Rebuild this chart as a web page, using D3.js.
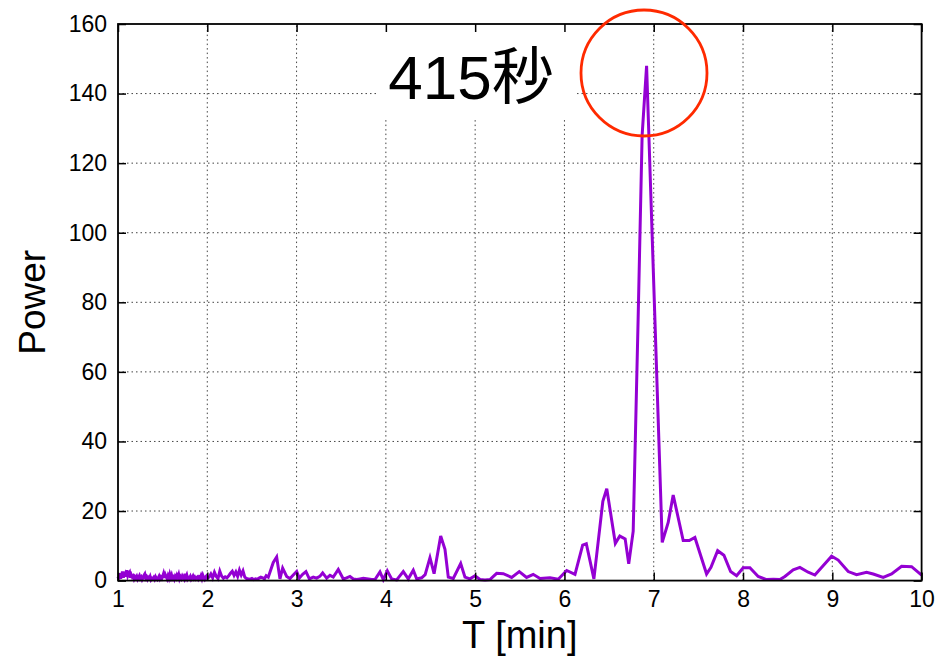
<!DOCTYPE html>
<html lang="ja">
<head>
<meta charset="UTF-8">
<title>Power spectrum</title>
<script src="https://d3js.org/d3.v7.min.js"></script>
<style>
  body { margin: 0; background: #fff; }
  svg { display: block; font-family: "Liberation Sans", Arial, sans-serif; }
</style>
</head>
<body>
<svg id="chart" width="941" height="658"></svg>
<script>
// dense low-period band, T = 1.00 .. 2.66 min
const periodDense = [
  1.00, 1.01, 1.02, 1.03, 1.04, 1.05, 1.06, 1.07, 1.08, 1.09,
  1.10, 1.11, 1.12, 1.13, 1.14, 1.15, 1.16, 1.17, 1.18, 1.19,
  1.20, 1.21, 1.22, 1.23, 1.24, 1.25, 1.26, 1.27, 1.28, 1.29,
  1.30, 1.31, 1.32, 1.33, 1.34, 1.35, 1.36, 1.37, 1.38, 1.39,
  1.40, 1.41, 1.42, 1.43, 1.44, 1.45, 1.46, 1.47, 1.48, 1.49,
  1.50, 1.51, 1.52, 1.53, 1.54, 1.55, 1.56, 1.57, 1.58, 1.59,
  1.60, 1.61, 1.62, 1.63, 1.64, 1.65, 1.66, 1.67, 1.68, 1.69,
  1.70, 1.71, 1.72, 1.73, 1.74, 1.75, 1.76, 1.77, 1.78, 1.79,
  1.80, 1.81, 1.82, 1.83, 1.84, 1.85, 1.86, 1.87, 1.88, 1.89,
  1.90, 1.91, 1.92, 1.93, 1.94, 1.95, 1.96, 1.97, 1.98, 1.99,
  2.00, 2.02, 2.04, 2.06, 2.08, 2.10, 2.12, 2.14, 2.16, 2.18,
  2.20, 2.22, 2.24, 2.26, 2.28, 2.30, 2.32, 2.34, 2.36, 2.38,
  2.40, 2.42, 2.44, 2.46, 2.48, 2.50, 2.52, 2.54, 2.56, 2.58,
  2.60, 2.62, 2.64, 2.66
];
const powerDense = [
  1.2, 0.4, 2.1, 0.6, 1.5, 2.6, 0.9, 1.8, 2.2, 1.1,
  3.0, 1.4, 2.0, 2.4, 0.8, 1.6, 1.0, 1.3, 0.5, 1.1,
  0.7, 1.2, 0.4, 0.9, 1.4, 0.6, 1.0, 0.3, 0.8, 1.5,
  1.9, 0.7, 1.1, 0.4, 0.9, 0.6, 1.2, 0.3, 0.7, 0.5,
  0.9, 0.4, 1.1, 0.6, 0.3, 0.8, 1.3, 0.5, 1.0, 0.6,
  1.2, 2.0, 0.8, 1.7, 1.1, 0.5, 1.4, 0.7, 1.8, 0.9,
  1.6, 0.6, 1.0, 0.4, 1.2, 0.7, 1.5, 0.9, 1.7, 0.5,
  1.1, 0.6, 1.3, 0.8, 0.4, 2.0, 1.0, 1.6, 0.5, 0.9,
  0.7, 1.2, 0.4, 0.8, 1.3, 0.6, 1.0, 0.5, 0.9, 1.1,
  0.5, 1.0, 0.7, 1.4, 0.6, 1.5, 0.8, 0.4, 1.0, 1.3,
  0.7, 1.0, 1.9, 0.8, 2.4, 1.2, 0.6, 2.7, 1.3, 0.7,
  1.1, 0.8, 1.4, 2.1, 2.7, 1.5, 2.5, 1.2, 3.0, 1.6,
  2.8, 1.0, 0.6, 0.5, 0.4, 0.6, 0.3, 0.5, 0.4, 0.7,
  1.0, 0.8, 0.5, 1.4
];
// sparser part, T = 2.68 .. 10 min
const periodSparse = [
  2.683, 2.739, 2.777, 2.814, 2.844, 2.889, 2.926, 2.963, 3.001, 3.030,
  3.068, 3.105, 3.143, 3.187, 3.225, 3.260, 3.292, 3.337, 3.374, 3.411,
  3.467, 3.523, 3.560, 3.598, 3.635, 3.673, 3.710, 3.747, 3.803, 3.840,
  3.878, 3.934, 3.971, 4.016, 4.065, 4.121, 4.195, 4.251, 4.307, 4.345,
  4.401, 4.440, 4.494, 4.540, 4.614, 4.662, 4.699, 4.755, 4.838, 4.886,
  4.942, 4.998, 5.054, 5.110, 5.166, 5.241, 5.315, 5.409, 5.494, 5.576,
  5.650, 5.726, 5.838, 5.931, 6.025, 6.118, 6.204, 6.245, 6.330, 6.430,
  6.474, 6.570, 6.620, 6.680, 6.720, 6.770, 6.825, 6.870, 6.920, 7.095,
  7.162, 7.218, 7.330, 7.398, 7.461, 7.592, 7.641, 7.716, 7.786, 7.861,
  7.928, 8.002, 8.077, 8.170, 8.264, 8.340, 8.413, 8.469, 8.562, 8.637,
  8.730, 8.805, 8.992, 9.066, 9.178, 9.272, 9.384, 9.458, 9.570, 9.664,
  9.776, 9.888, 10.0
];
const powerSparse = [
  1.0, 5.2, 6.8, 0.5, 3.6, 1.2, 0.6, 1.6, 2.6, 0.7,
  1.8, 2.6, 0.5, 1.0, 0.7, 1.2, 2.2, 0.7, 1.5, 1.0,
  3.2, 0.5, 0.8, 1.2, 0.5, 0.3, 0.5, 0.7, 0.5, 0.3,
  0.3, 2.5, 0.3, 2.8, 0.5, 0.2, 2.6, 0.5, 3.0, 0.5,
  0.8, 1.7, 6.6, 2.0, 12.8, 9.0, 1.0, 0.6, 4.9, 1.0,
  0.5, 1.4, 0.3, 0.2, 0.3, 2.1, 2.0, 0.9, 2.6, 0.9,
  1.8, 0.6, 0.8, 0.4, 2.9, 1.8, 10.2, 10.6, 0.5, 22.8,
  26.4, 10.7, 12.8, 12.0, 4.8, 14.2, 75, 128, 148, 11.0,
  16.7, 24.6, 11.5, 11.5, 12.4, 1.9, 3.8, 8.6, 7.3, 2.6,
  1.4, 3.7, 3.7, 1.2, 0.3, 0.4, 0.3, 1.2, 3.1, 3.8,
  2.4, 1.6, 7.0, 5.9, 2.6, 1.7, 2.4, 1.9, 0.9, 1.9,
  4.1, 4.0, 1.6
];
const xTicks = [1, 2, 3, 4, 5, 6, 7, 8, 9, 10];
const yTicks = [0, 20, 40, 60, 80, 100, 120, 140, 160];
const note = "415秒";

const width = 941, height = 658;
const margin = {top: 24, right: 19.4, bottom: 77.4, left: 118};

const svg = d3.select("#chart");

const x = d3.scaleLinear().domain([1, 10]).range([margin.left, width - margin.right]);
const y = d3.scaleLinear().domain([0, 160]).range([height - margin.bottom, margin.top]);

const data = periodDense.map((t, i) => ({t: t, p: powerDense[i]}))
  .concat(periodSparse.map((t, i) => ({t: t, p: powerSparse[i]})));

// dotted grid
const grid = svg.append("g").attr("stroke", "#444").attr("stroke-width", 1)
  .attr("stroke-dasharray", "1.5,3");
grid.selectAll(".gx").data(xTicks.slice(1, -1)).join("line")
  .attr("x1", d => x(d)).attr("x2", d => x(d))
  .attr("y1", y(0)).attr("y2", y(160));
grid.selectAll(".gy").data(yTicks.slice(1, -1)).join("line")
  .attr("x1", x(1)).attr("x2", x(10))
  .attr("y1", d => y(d)).attr("y2", d => y(d));

// white box behind the annotation
svg.append("rect")
  .attr("x", 378).attr("y", margin.top)
  .attr("width", 196).attr("height", 96)
  .attr("fill", "#fff");

svg.append("path")
  .datum(data)
  .attr("fill", "none")
  .attr("stroke", "#9400d3")
  .attr("stroke-width", 3)
  .attr("stroke-linejoin", "miter")
  .attr("d", d3.line().x(d => x(d.t)).y(d => y(d.p)));

svg.append("text")
  .attr("x", 471).attr("y", 99)
  .attr("text-anchor", "middle")
  .attr("font-size", 62)
  .style("font-family", '"Liberation Sans", "Noto Sans CJK JP", sans-serif')
  .text(note);

// axes, ticks pointing inward, mirrored on top and right
function styleAxis(g) {
  g.select(".domain").remove();
  g.selectAll(".tick line").attr("stroke", "#000").attr("stroke-width", 1.5);
  g.selectAll(".tick text").attr("fill", "#000").attr("font-size", 23)
    .style("font-family", '"Liberation Sans", Arial, sans-serif');
}

svg.append("g")
  .attr("transform", `translate(0,${y(0)})`)
  .call(d3.axisBottom(x).tickValues(xTicks).tickSize(-8).tickPadding(10).tickFormat(d3.format("d")))
  .call(styleAxis);
svg.append("g")
  .attr("transform", `translate(0,${y(160)})`)
  .call(d3.axisTop(x).tickValues(xTicks).tickSize(-8).tickFormat(""))
  .call(styleAxis);
svg.append("g")
  .attr("transform", `translate(${x(1)},0)`)
  .call(d3.axisLeft(y).tickValues(yTicks).tickSize(-8).tickPadding(11).tickFormat(d3.format("d")))
  .call(styleAxis);
svg.append("g")
  .attr("transform", `translate(${x(10)},0)`)
  .call(d3.axisRight(y).tickValues(yTicks).tickSize(-8).tickFormat(""))
  .call(styleAxis);

svg.append("rect")
  .attr("x", x(1)).attr("y", y(160))
  .attr("width", x(10) - x(1)).attr("height", y(0) - y(160))
  .attr("fill", "none").attr("stroke", "#000").attr("stroke-width", 1.8);

svg.append("text")
  .attr("x", (x(1) + x(10)) / 2).attr("y", 648)
  .attr("text-anchor", "middle")
  .attr("font-size", 38)
  .text("T [min]");

svg.append("text")
  .attr("transform", `translate(45,${(y(0) + y(160)) / 2}) rotate(-90)`)
  .attr("text-anchor", "middle")
  .attr("font-size", 37)
  .text("Power");

// highlight around the peak
svg.append("circle")
  .attr("cx", 644).attr("cy", 73).attr("r", 63)
  .attr("fill", "none")
  .attr("stroke", "#ff2a00")
  .attr("stroke-width", 2.8);
</script>
</body>
</html>
